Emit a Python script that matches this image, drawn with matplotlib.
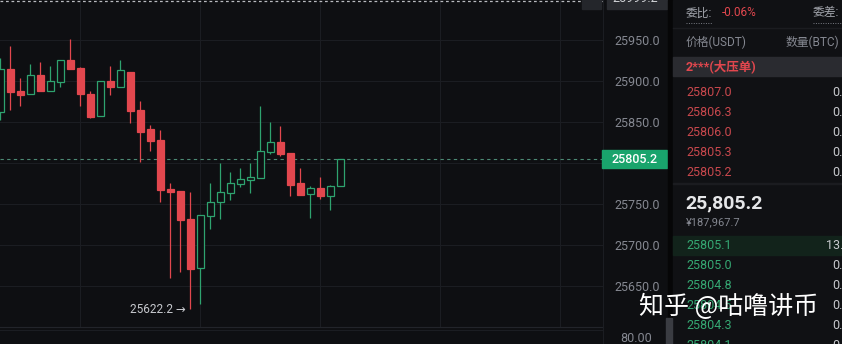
import matplotlib
matplotlib.use("Agg")
import matplotlib.pyplot as plt
from matplotlib.patches import Rectangle
from matplotlib.lines import Line2D
from matplotlib.ticker import FuncFormatter

plt.rcParams['font.family'] = ['Roboto', 'Noto Sans CJK SC', 'DejaVu Sans']

# ---- data ----
opens = [25862.2, 25915.0, 25888.5, 25884.1, 25907.7, 25888.5, 25899.5, 25926.0, 25916.6, 25884.5,
         25858.0, 25900.4, 25893.4, 25911.7, 25865.0, 25841.8, 25828.4, 25768.7, 25766.0, 25732.1,
         25672.0, 25736.1, 25752.4, 25764.1, 25775.1, 25780.0, 25782.4, 25814.1, 25826.3, 25812.9,
         25775.6, 25762.2, 25770.2, 25760.5, 25772.7]
closes = [25914.6, 25887.3, 25883.7, 25907.3, 25888.5, 25900.4, 25925.6, 25915.0, 25884.5, 25856.8,
          25900.4, 25893.4, 25913.8, 25864.1, 25838.5, 25827.2, 25767.4, 25765.4, 25730.9, 25671.1,
          25737.0, 25753.2, 25764.6, 25776.0, 25780.5, 25782.9, 25815.0, 25825.6, 25811.3, 25773.5,
          25761.3, 25769.5, 25760.5, 25772.7, 25805.2]
highs = [25928.0, 25943.0, 25903.7, 25920.7, 25923.9, 25918.7, 25925.6, 25951.2, 25917.0, 25888.5,
         25900.4, 25918.7, 25925.6, 25911.7, 25876.3, 25846.7, 25840.6, 25775.6, 25766.6, 25765.4,
         25737.0, 25776.3, 25800.0, 25789.0, 25794.6, 25800.0, 25869.9, 25850.0, 25845.9, 25812.9,
         25794.6, 25772.7, 25783.7, 25773.5, 25805.2]
lows = [25852.8, 25865.0, 25869.9, 25884.1, 25888.5, 25888.5, 25893.4, 25915.0, 25869.9, 25854.9,
        25858.0, 25883.3, 25893.4, 25849.5, 25802.0, 25815.0, 25752.4, 25660.5, 25667.8, 25622.2,
        25628.4, 25719.5, 25732.1, 25755.2, 25770.7, 25764.1, 25782.4, 25811.3, 25808.9, 25760.1,
        25761.3, 25732.9, 25756.1, 25743.0, 25772.7]

last_price = 25805.2
top_price = 25999.2
low_label = "25622.2"
price_ticks = [25650, 25700, 25750, 25800, 25850, 25900, 25950]

ask_prices = ["25807.0", "25806.3", "25806.0", "25805.3", "25805.2"]
bid_prices = ["25805.1", "25805.0", "25804.8", "25804.5", "25804.3", "25804.1"]
bid_qty = ["13.", "0.", "0.", "0.", "0.", "0."]

BG = '#0e0f12'
GRID = '#1b1d22'
RED = '#e2474e'
GREEN = '#2ea36f'
TXT = '#858891'

W, H = 842, 344
def fx(x): return x / W
def fy(y): return 1 - y / H

fig = plt.figure(figsize=(8.42, 3.44), dpi=100, facecolor=BG)

# ---- candle chart ----
ax = fig.add_axes([0, fy(327), 603 / W, 327 / H], facecolor=BG)
ax.set_xlim(-0.03, 60.27)
ax.set_ylim(25600.4, 25999.1)

for i in range(len(opens)):
    o, c, h, l = opens[i], closes[i], highs[i], lows[i]
    up = c >= o
    col = GREEN if up else RED
    top, bot = max(o, c), min(o, c)
    ax.vlines(i, top, h, color=col, lw=0.9, zorder=3)
    ax.vlines(i, l, bot, color=col, lw=0.9, zorder=3)
    ax.bar(i, max(top - bot, 1.2), bottom=bot, width=0.68,
           color=BG if up else col, edgecolor=col, linewidth=0.9, zorder=4)

ax.set_yticks(price_ticks)
ax.set_xticks([8, 20, 32, 44, 56])
ax.grid(True, color=GRID, lw=0.8)
ax.yaxis.tick_right()
ax.yaxis.set_major_formatter(FuncFormatter(lambda v, p: '' if v == 25800 else f'{v:.1f}'))
ax.tick_params(axis='y', length=0, pad=8, labelsize=9, labelcolor=TXT)
ax.tick_params(axis='x', length=0, labelbottom=False)
for s in ['top', 'left']:
    ax.spines[s].set_visible(False)
ax.spines['right'].set_color(GRID)
ax.spines['bottom'].set_color('#22242a')

# last price line and label
ax.axhline(last_price, color='#4d8a75', lw=0.8, dashes=(3, 3), zorder=2)
ytr = ax.get_yaxis_transform()
ax.add_patch(Rectangle((0.998, last_price - 11), 65 / 603, 22, transform=ytr,
                       color='#19a46c', clip_on=False, zorder=6))
ax.text(1 + 32 / 603, last_price, f'{last_price:.1f}', transform=ytr, color='white',
        fontsize=9, fontweight='medium', ha='center', va='center', zorder=7)

# top price line and label (cut off by the screenshot edge)
ax.axhline(top_price - 1.2, color='#b9bbc0', lw=0.9, dashes=(2.2, 2.2), zorder=2, clip_on=False)
ax.add_patch(Rectangle((1 + 4 / 603, top_price - 11), 60 / 603, 25, transform=ytr,
                       color='#2a2c31', clip_on=False, zorder=6))
ax.text(1 + 32 / 603, top_price + 2, f'{top_price:.1f}', transform=ytr, color='#d0d2d6',
        fontsize=9, ha='center', va='center', zorder=7)
ax.add_patch(Rectangle((1 - 21 / 603, top_price - 11), 19 / 603, 25, transform=ytr,
                       color='#24262b', clip_on=False, zorder=6))
ax.text(1 - 11 / 603, top_price + 3, '+', transform=ytr, color='#8a8d95',
        fontsize=11, ha='center', va='center', zorder=7)

# lowest price marker
ax.text(18.55, lows[19], f'{low_label} →', color='#c7c9ce', fontsize=8.5,
        ha='right', va='center', family=['Roboto', 'DejaVu Sans'])

# ---- volume pane stub ----
fig.add_artist(Line2D([0, fx(603)], [fy(330), fy(330)], color=GRID, lw=0.8))
fig.add_artist(Line2D([fx(603), fx(603)], [fy(327), 0], color=GRID, lw=0.8))
fig.text(fx(620), fy(339), '80.00', color=TXT, fontsize=9, va='center')

# ---- order book panel ----
fig.add_artist(Rectangle((fx(668), 0), fx(5), 1, transform=fig.transFigure, color='#060607'))
fig.add_artist(Rectangle((fx(673), 0), fx(169), 1, transform=fig.transFigure, color='#101114'))
fig.add_artist(Rectangle((fx(666), fy(344)), fx(6), 26 / H, transform=fig.transFigure,
                         color='#3a3c42', zorder=5))

fig.text(fx(686), fy(13), '委比:', color='#a3a6ad', fontsize=8.5, va='center')
fig.text(fx(722), fy(13), '-0.06%', color=RED, fontsize=8.5, va='center')
fig.text(fx(813), fy(13), '委差:', color='#a3a6ad', fontsize=8.5, va='center')
for x0, x1 in [(686, 712), (813, 842)]:
    fig.add_artist(Line2D([fx(x0), fx(x1)], [fy(23), fy(23)], color='#7a7d85', lw=0.7, dashes=(1, 1.5)))
fig.add_artist(Line2D([fx(673), 1], [fy(28), fy(28)], color='#1b1c20', lw=1))

fig.text(fx(686), fy(42), '价格(USDT)', color=TXT, fontsize=8.5, va='center')
fig.text(fx(786), fy(42), '数量(BTC)', color=TXT, fontsize=8.5, va='center')

# row partly hidden under the big-order band
fig.text(fx(686), fy(72), '25807.8', color='#c4474c', fontsize=9, va='center', zorder=2)
fig.add_artist(Rectangle((fx(673), fy(76)), fx(169), 19 / H, transform=fig.transFigure,
                         color='#2a2b30', zorder=3.5))
fig.text(fx(686), fy(66), '2***(大压单)', color=RED, fontsize=9, fontweight='bold',
         va='center', zorder=4)

for k, p in enumerate(ask_prices):
    y = 93 + 20 * k
    fig.text(fx(686), fy(y), p, color='#c9484d', fontsize=9, va='center')
    fig.text(fx(832), fy(y), '0.', color='#c8cace', fontsize=9, va='center')

fig.add_artist(Rectangle((fx(673), fy(184)), fx(169), 0.6 / H, transform=fig.transFigure, color='#1b1c20'))
fig.text(fx(685), fy(203), f'{last_price:,.1f}', color='#e6e7e9', fontsize=14,
         fontweight='bold', va='center')
fig.text(fx(686), fy(222), '¥187,967.7', color=TXT, fontsize=8, va='center')

fig.add_artist(Rectangle((fx(673), fy(255)), fx(169), 19 / H, transform=fig.transFigure, color='#12231b'))
for k, p in enumerate(bid_prices):
    y = 245.5 + 20 * k
    fig.text(fx(686), fy(y), p, color='#35a873', fontsize=9, va='center')
    fig.text(fx(826 if bid_qty[k] == '13.' else 832), fy(y), bid_qty[k], color='#c8cace',
             fontsize=9, va='center')

# watermark
fig.text(fx(639), fy(307), '知乎 @咕噜讲币', color='white', fontsize=18,
         family=['Noto Sans CJK SC', 'DejaVu Sans'], va='center', zorder=6)

fig.savefig('out.png', dpi=100, facecolor=BG)
